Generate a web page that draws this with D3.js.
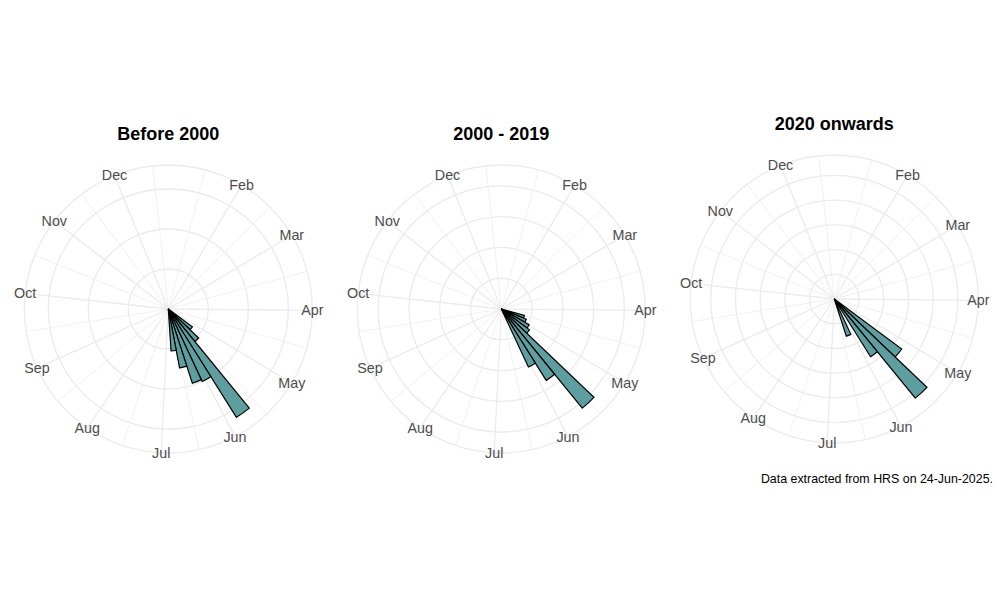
<!DOCTYPE html>
<html>
<head>
<meta charset="utf-8">
<script src="https://cdn.jsdelivr.net/npm/d3@7"></script>
<style>
  body { margin: 0; background: #ffffff; }
  svg { display: block; font-family: "Liberation Sans", Arial, Helvetica, sans-serif; }
</style>
</head>
<body>
<svg id="chart" width="1000" height="600"></svg>
<script>
// ---------------- data ----------------
const monthLabels = ["Jan", "Feb", "Mar", "Apr", "May", "Jun", "Jul", "Aug", "Sep", "Oct", "Nov", "Dec"];
const monthStartDays = [1, 32, 60, 91, 121, 152, 182, 213, 244, 274, 305, 335];
const nextYearStartDay = 366;
const thetaLimits = [1.8, 356.6];          // day-of-year range spanned by the circle
const binWidthDays = 7;                    // weekly bins

const panelTitles = ["Before 2000", "2000 - 2019", "2020 onwards"];

const binStartsBefore2000 = [126.5, 133.5, 140.5, 147.5, 154.5, 161.5, 168.5];
const valuesBefore2000    = [3.75, 5.25, 16, 10, 9.75, 7.5, 5.25];

const binStarts2000to2019 = [105.5, 112.5, 119.5, 126.5, 133.5, 140.5, 147.5];
const values2000to2019    = [3.9, 4.4, 5.2, 5.7, 20.8, 13.7, 10.4];

const binStarts2020on = [126.5, 133.5, 140.5, 154.5];
const values2020on    = [17.0, 25.9, 13.8, 7.9];

const radialTicks = [5, 10, 15, 20, 25];
const captionText = "Data extracted from HRS on 24-Jun-2025.";

// ---------------- layout ----------------
const svg = d3.select("#chart");
const R_DATA = 128;     // radius of the data range (0.4 of panel)
const R_OUTER = 144;    // outer circle (0.45 of panel)
const panels = [
  { cx: 168.3, cy: 309, title: panelTitles[0], starts: binStartsBefore2000, values: valuesBefore2000 },
  { cx: 501.3, cy: 309, title: panelTitles[1], starts: binStarts2000to2019, values: values2000to2019 },
  { cx: 834.3, cy: 299, title: panelTitles[2], starts: binStarts2020on, values: values2020on }
];

const gridColor = "#EBEBEB";
const barFill = "#5F9EA0";

const theta = d3.scaleLinear().domain(thetaLimits).range([0, 2 * Math.PI]);
const inRange = d => d >= thetaLimits[0] && d <= thetaLimits[1];

const majorBreaks = monthStartDays.map((d, i) => ({ d, label: monthLabels[i] })).filter(b => inRange(b.d));
const minorBreaks = d3.pairs([...monthStartDays, nextYearStartDay], (a, b) => (a + b) / 2).filter(inRange);

panels.forEach(p => {
  const g = svg.append("g").attr("transform", `translate(${p.cx},${p.cy})`);
  const r = d3.scaleLinear().domain([0, d3.max(p.values)]).range([0, R_DATA]);

  // minor spokes
  g.selectAll("line.minor").data(minorBreaks).join("line")
    .attr("class", "minor")
    .attr("x1", 0).attr("y1", 0)
    .attr("x2", d => R_OUTER * Math.sin(theta(d)))
    .attr("y2", d => -R_OUTER * Math.cos(theta(d)))
    .attr("stroke", gridColor).attr("stroke-width", 0.7);

  // major spokes
  g.selectAll("line.major").data(majorBreaks).join("line")
    .attr("class", "major")
    .attr("x1", 0).attr("y1", 0)
    .attr("x2", d => R_OUTER * Math.sin(theta(d.d)))
    .attr("y2", d => -R_OUTER * Math.cos(theta(d.d)))
    .attr("stroke", gridColor).attr("stroke-width", 1.3);

  // radial circles
  const ticks = radialTicks.filter(t => t <= r.domain()[1]);
  g.selectAll("circle.rgrid").data(ticks).join("circle")
    .attr("class", "rgrid")
    .attr("r", d => r(d))
    .attr("fill", "none").attr("stroke", gridColor).attr("stroke-width", 1.3);
  g.append("circle").attr("r", R_OUTER)
    .attr("fill", "none").attr("stroke", gridColor).attr("stroke-width", 1.3);

  // bars
  const arc = d3.arc().innerRadius(0);
  g.selectAll("path.bar").data(p.starts.map((s, i) => ({ s, v: p.values[i] }))).join("path")
    .attr("class", "bar")
    .attr("d", d => arc({ outerRadius: r(d.v), startAngle: theta(d.s), endAngle: theta(d.s + binWidthDays) }))
    .attr("fill", barFill)
    .attr("stroke", "#000000")
    .attr("stroke-width", 1.2)
    .attr("stroke-linejoin", "miter");

  // month labels
  g.selectAll("text.month").data(majorBreaks).join("text")
    .attr("class", "month")
    .attr("x", d => R_OUTER * Math.sin(theta(d.d)))
    .attr("y", d => -R_OUTER * Math.cos(theta(d.d)))
    .attr("text-anchor", "middle")
    .attr("dominant-baseline", "central")
    .attr("font-size", 14.3)
    .attr("fill", "#4D4D4D")
    .text(d => d.label);

  // title
  svg.append("text")
    .attr("x", p.cx).attr("y", p.cy - 169.5)
    .attr("text-anchor", "middle")
    .attr("font-size", 18).attr("font-weight", "bold")
    .attr("fill", "#000000")
    .text(p.title);
});

// caption
svg.append("text")
  .attr("x", 993).attr("y", 483)
  .attr("text-anchor", "end")
  .attr("font-size", 12.4)
  .attr("fill", "#000000")
  .text(captionText);
</script>
</body>
</html>
